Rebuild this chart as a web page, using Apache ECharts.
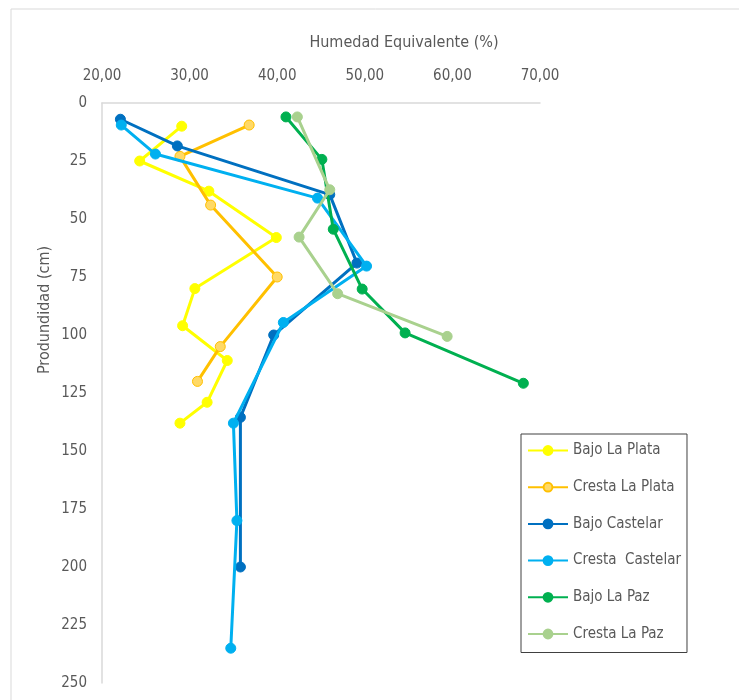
<!DOCTYPE html>
<html>
<head>
<meta charset="utf-8">
<script src="https://cdn.jsdelivr.net/npm/echarts@6/dist/echarts.min.js"></script>
<style>html,body{margin:0;padding:0;background:#fff}#c{width:739px;height:700px}</style>
</head>
<body>
<div id="c"></div>
<script>
var seriesNames = ['Bajo La Plata', 'Cresta La Plata', 'Bajo Castelar', 'Cresta  Castelar', 'Bajo La Paz', 'Cresta La Paz'];
// [humedad %, profundidad cm]
var bajoLaPlata = [[29.1, 10], [24.3, 25], [32.2, 38], [39.9, 58], [30.6, 80], [29.2, 96], [34.3, 111], [32.0, 129], [28.9, 138]];
var crestaLaPlata = [[36.8, 9.5], [28.9, 23], [32.4, 44], [40.0, 75], [33.5, 105], [30.9, 120]];
var bajoCastelar = [[22.1, 7], [28.6, 18.5], [46.0, 39.5], [49.1, 69], [39.6, 100], [35.8, 135.5], [35.8, 200]];
var crestaCastelar = [[22.2, 9.5], [26.1, 22], [44.6, 41], [50.2, 70.3], [40.7, 94.6], [35.0, 138], [35.4, 180], [34.7, 235]];
var bajoLaPaz = [[41.0, 6], [45.1, 24.3], [46.4, 54.4], [49.7, 80.2], [54.6, 99.1], [68.1, 120.8]];
var crestaLaPaz = [[42.3, 6], [46.0, 37.4], [42.5, 57.8], [46.9, 82.2], [59.4, 100.6]];
var xTicks = [20, 30, 40, 50, 60, 70];
var yTicks = [0, 25, 50, 75, 100, 125, 150, 175, 200, 225, 250];

var allData = [bajoLaPlata, crestaLaPlata, bajoCastelar, crestaCastelar, bajoLaPaz, crestaLaPaz];
var lineColors = ['#FFFF00', '#FFC000', '#0070C0', '#00B0F0', '#00B050', '#A9D18E'];
var fillColors = ['#FFFF00', '#FFD966', '#0070C0', '#00B0F0', '#00B050', '#A9D18E'];
var borderColors = ['#FFFF00', '#FFC000', '#0070C0', '#00B0F0', '#00B050', '#A9D18E'];

var FONT = '"Liberation Sans Narrow", "DejaVu Sans Condensed", "Open Sans", sans-serif';

var series = seriesNames.map(function (n, i) {
  return {
    name: n,
    type: 'line',
    data: allData[i],
    symbol: 'circle',
    symbolSize: 10,
    lineStyle: { color: lineColors[i], width: 3 },
    itemStyle: { color: fillColors[i], borderColor: borderColors[i], borderWidth: 1 },
    emphasis: { disabled: true },
    z: 2 + i
  };
});

var chart = echarts.init(document.getElementById('c'));
chart.setOption({
  animation: false,
  backgroundColor: '#fff',
  textStyle: { fontFamily: FONT },
  grid: { left: 102, top: 103, right: 199, bottom: 17, containLabel: false },
  graphic: [
    { type: 'rect', shape: { x: 11, y: 9, width: 740, height: 700 }, style: { fill: 'none', stroke: '#D9D9D9', lineWidth: 1 }, silent: true },
    { type: 'text', x: 404, y: 43, style: { text: 'Humedad Equivalente (%)', fill: '#595959', font: '16px ' + FONT, align: 'center', verticalAlign: 'middle' } },
    { type: 'text', x: 45, y: 310, rotation: Math.PI / 2, style: { text: 'Produndidad (cm)', fill: '#595959', font: '16px ' + FONT, align: 'center', verticalAlign: 'middle' } }
  ],
  legend: {
    orient: 'vertical',
    left: 521,
    top: 434,
    itemWidth: 40,
    itemHeight: 11,
    itemGap: 21.7,
    padding: [9, 6, 11, 6],
    borderColor: '#404040',
    borderWidth: 1,
    backgroundColor: '#fff',
    textStyle: { color: '#595959', fontSize: 15, lineHeight: 14, fontFamily: FONT },
    data: seriesNames
  },
  xAxis: {
    type: 'value',
    position: 'top',
    min: xTicks[0],
    max: xTicks[xTicks.length - 1],
    interval: 10,
    axisLine: { show: true, lineStyle: { color: '#D9D9D9', width: 1.5 } },
    axisTick: { show: false },
    splitLine: { show: false },
    axisLabel: {
      color: '#595959', fontSize: 15, fontFamily: FONT, margin: 19,
      formatter: function (v) { return v.toFixed(2).replace('.', ','); }
    }
  },
  yAxis: {
    type: 'value',
    inverse: true,
    min: yTicks[0],
    max: yTicks[yTicks.length - 1],
    interval: 25,
    axisLine: { show: true, lineStyle: { color: '#D9D9D9', width: 1.5 } },
    axisTick: { show: false },
    splitLine: { show: false },
    axisLabel: { color: '#595959', fontSize: 15, fontFamily: FONT, margin: 15 }
  },
  series: series
});
</script>
</body>
</html>
